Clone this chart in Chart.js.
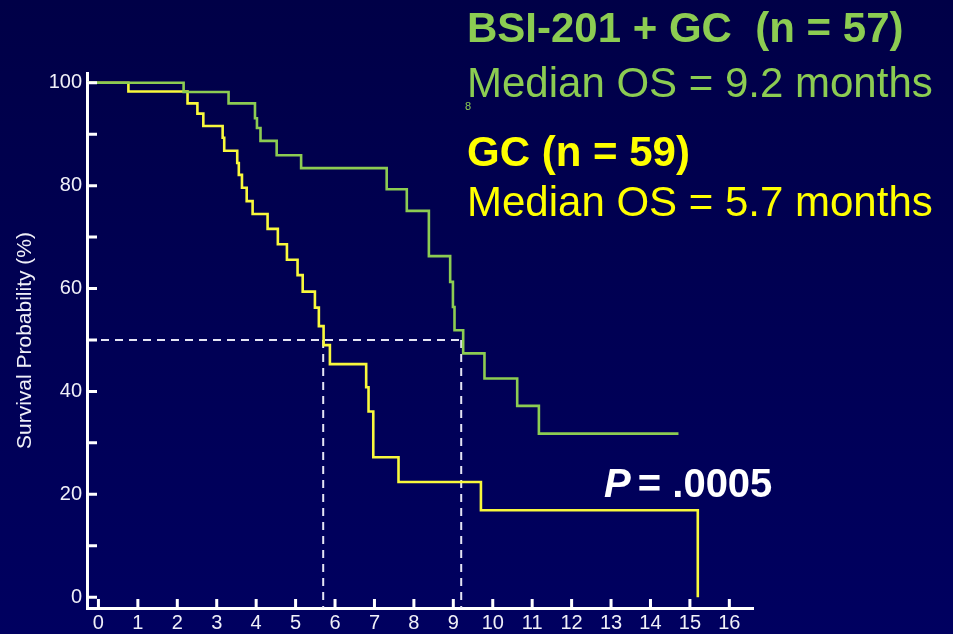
<!DOCTYPE html>
<html>
<head>
<meta charset="utf-8">
<script src="https://cdn.jsdelivr.net/npm/chart.js@4"></script>
<style>
  html, body { margin: 0; padding: 0; }
  body { width: 953px; height: 634px; background: linear-gradient(#000047, #000060); overflow: hidden; }
</style>
</head>
<body>
<canvas id="kmChart" width="953" height="634"></canvas>
<script>
// Kaplan-Meier steps: month of each drop, survival (%) after it
let comboTimes = [0, 2.16, 3.30, 3.97, 4.02, 4.11, 4.52, 5.14, 7.31, 7.82, 8.38, 8.92, 8.99, 9.03, 9.25, 9.79, 10.62, 11.17, 14.71];
let comboSurv  = [100, 98.2, 96.0, 93.1, 91.2, 88.7, 85.9, 83.4, 79.3, 75.1, 66.3, 61.3, 56.4, 51.9, 47.4, 42.5, 37.2, 31.8, 31.8];

let gcTimes = [0, 0.76, 2.26, 2.51, 2.66, 3.15, 3.19, 3.52, 3.56, 3.64, 3.76, 3.91, 4.29, 4.55, 4.78, 5.05, 5.18, 5.49, 5.59, 5.71, 5.87, 6.79, 6.85, 6.97, 7.61, 9.70, 15.2];
let gcSurv  = [100, 98.3, 96.0, 94.0, 91.6, 89.3, 86.8, 84.4, 82.1, 79.6, 77.0, 74.5, 71.6, 68.6, 65.6, 62.6, 59.4, 56.3, 52.7, 49.0, 45.3, 40.8, 36.1, 27.2, 22.4, 16.9, 0];

let medians = [5.7, 9.2];
let medianLevel = 50;

let xTicks = [0, 1, 2, 3, 4, 5, 6, 7, 8, 9, 10, 11, 12, 13, 14, 15, 16];
let yTicks = [0, 20, 40, 60, 80, 100];
let yMinorTicks = [10, 30, 50, 70, 90];

const xMin = -0.29, xMax = 16.6;
const yMin = -2.1, yMax = 101.9;

const green = '#8ccc52';
const yellow = '#f8f83c';
const white = '#ffffff';

// the curves are drawn from the y axis at 100 %
function toPoints(xs, ys) {
  return [{x: xMin, y: ys[0]}].concat(xs.map((x, i) => ({x: x, y: ys[i]})));
}

// dashed guides at the medians
let guideStyle = {borderColor: '#e4e4f4', borderWidth: 2, borderDash: [8, 6], pointRadius: 0, stepped: false};
let guides = [
  Object.assign({data: [{x: xMin, y: medianLevel}, {x: medians[1], y: medianLevel}]}, guideStyle),
  Object.assign({data: [{x: medians[0], y: medianLevel}, {x: medians[0], y: yMin}]}, guideStyle),
  Object.assign({data: [{x: medians[1], y: medianLevel}, {x: medians[1], y: yMin}]}, guideStyle)
];

// inward tick marks on both axes
const tickMarks = {
  id: 'tickMarks',
  afterDatasetsDraw(chart) {
    const ctx = chart.ctx;
    const xs = chart.scales.x, ys = chart.scales.y;
    const area = chart.chartArea;
    ctx.save();
    ctx.strokeStyle = white;
    ctx.lineWidth = 3;
    ctx.beginPath();
    xTicks.forEach(v => {
      const px = xs.getPixelForValue(v);
      ctx.moveTo(px, area.bottom);
      ctx.lineTo(px, area.bottom - 9);
    });
    yTicks.concat(yMinorTicks).forEach(v => {
      const py = ys.getPixelForValue(v);
      ctx.moveTo(area.left, py);
      ctx.lineTo(area.left + 10, py);
    });
    ctx.stroke();
    ctx.restore();
  }
};

const notes = {
  id: 'notes',
  afterDraw(chart) {
    const ctx = chart.ctx;
    ctx.save();
    ctx.textBaseline = 'alphabetic';
    ctx.textAlign = 'left';
    const fam = '"Liberation Sans", Arial, sans-serif';

    ctx.fillStyle = green;
    ctx.font = 'bold 42px ' + fam;
    ctx.fillText('BSI-201 + GC  (n = 57)', 467, 42);
    ctx.font = '42px ' + fam;
    ctx.fillText('Median OS = 9.2 months', 467, 97);
    ctx.font = '11px ' + fam;
    ctx.fillText('8', 465, 110);

    ctx.fillStyle = '#ffff00';
    ctx.font = 'bold 42px ' + fam;
    ctx.fillText('GC (n = 59)', 467, 166);
    ctx.font = '42px ' + fam;
    ctx.fillText('Median OS = 5.7 months', 467, 216);

    ctx.fillStyle = white;
    ctx.font = 'italic bold 40px ' + fam;
    ctx.fillText('P', 604, 497);
    const pw = ctx.measureText('P').width;
    ctx.font = 'bold 40px ' + fam;
    ctx.fillText(' = .0005', 604 + pw - 4, 497);
    ctx.restore();
  }
};

let kmChart = new Chart(document.getElementById('kmChart'), {
  type: 'line',
  data: {
    datasets: [
      {data: toPoints(comboTimes, comboSurv), borderColor: green, borderWidth: 2.6, pointRadius: 0, stepped: 'before'},
      {data: toPoints(gcTimes, gcSurv), borderColor: yellow, borderWidth: 2.6, pointRadius: 0, stepped: 'before'}
    ].concat(guides)
  },
  options: {
    responsive: false,
    animation: false,
    layout: {padding: {top: 73, right: 200, left: 0, bottom: 0}},
    plugins: {legend: {display: false}, tooltip: {enabled: false}},
    scales: {
      x: {
        type: 'linear',
        min: xMin,
        max: xMax,
        afterBuildTicks: s => { s.ticks = xTicks.map(v => ({value: v})); },
        afterFit: s => { s.height = 26; },
        grid: {drawOnChartArea: false, drawTicks: false},
        border: {color: white, width: 3},
        ticks: {color: '#f0f0f8', padding: 3, font: {size: 20, family: '"Liberation Sans", Arial'}}
      },
      y: {
        type: 'linear',
        min: yMin,
        max: yMax,
        afterBuildTicks: s => { s.ticks = yTicks.map(v => ({value: v})); },
        afterFit: s => { s.width = 87; },
        grid: {drawOnChartArea: false, drawTicks: false},
        border: {color: white, width: 3},
        ticks: {color: '#f0f0f8', padding: 5, font: {size: 20, family: '"Liberation Sans", Arial'}},
        title: {
          display: true,
          text: 'Survival Probability (%)',
          color: '#f0f0f8',
          font: {size: 21, family: '"Liberation Sans", Arial'},
          padding: {top: 13, bottom: 0}
        }
      }
    }
  },
  plugins: [tickMarks, notes]
});
</script>
</body>
</html>
